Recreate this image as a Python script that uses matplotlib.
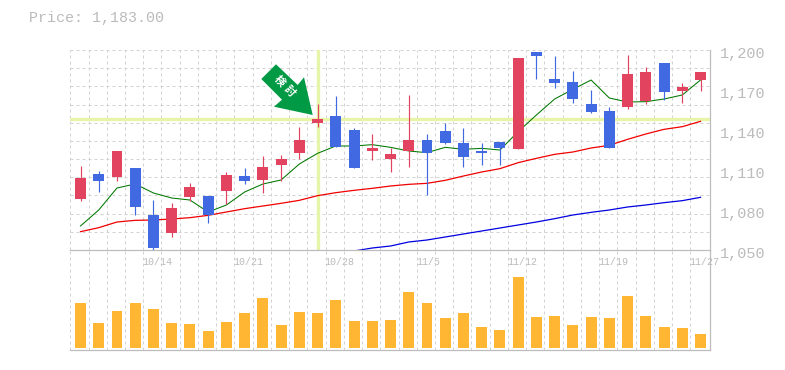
import numpy as np
import matplotlib
matplotlib.use("Agg")
import matplotlib.pyplot as plt
from matplotlib.patches import Polygon
from matplotlib.transforms import ScaledTranslation

W, H = 785, 370

# candles
body_top = [1104, 1107, 1124.25, 1111.5, 1076.25, 1081.5, 1097.25, 1090.5, 1106.25, 1105.5, 1112.25, 1118.25,
            1132.5, 1148.25, 1150.5, 1140, 1126.5, 1122, 1132.5, 1132.5, 1139.25, 1130.25, 1124.25, 1131,
            1194, 1198.5, 1178.25, 1176, 1159.5, 1154.25, 1182, 1183.5, 1190.25, 1172.25, 1183.5]
body_bot = [1088.25, 1101.75, 1104.75, 1082.25, 1051.5, 1062.75, 1089.75, 1076.25, 1094.25, 1101.75, 1102.5, 1113.75,
            1122.75, 1145.25, 1127.25, 1111.5, 1124.25, 1118.25, 1124.25, 1122.75, 1130.25, 1119.75, 1122.75, 1126.5,
            1125.75, 1195.5, 1175.25, 1163.25, 1153.5, 1126.5, 1157.25, 1161.75, 1168.5, 1169.25, 1177.5]
high = [1113, 1109.25, 1124.25, 1111.5, 1087.5, 1085.25, 1100.25, 1090.5, 1108.5, 1111.5, 1120.5, 1121.25,
        1142.25, 1159.5, 1165.5, 1141.5, 1137, 1126.5, 1166.25, 1137, 1145.25, 1141.5, 1130.25, 1131,
        1194, 1198.5, 1195.5, 1184.25, 1170, 1157.25, 1196.25, 1187.25, 1190.25, 1175.25, 1183.5]
low = [1086.75, 1093.5, 1101.75, 1076.25, 1049.25, 1059.75, 1086.75, 1070.25, 1084.5, 1099.5, 1092.75, 1101.75,
       1118.25, 1142.25, 1127.25, 1111.5, 1117.5, 1108.5, 1112.25, 1091.25, 1129.5, 1112.25, 1113.75, 1113.75,
       1125.75, 1178.25, 1171.5, 1160.25, 1152.75, 1126.5, 1155.75, 1159.5, 1162.5, 1160.25, 1169.25]
rising = [1, 0, 1, 0, 0, 1, 1, 0, 1, 0, 1, 1, 1, 1, 0, 0, 1, 1, 1, 0, 0, 0, 0, 0, 1, 0, 0, 0, 0, 0, 1, 1, 0, 1, 1]

ma_short = [1068, 1080, 1096.5, 1099.5, 1092.75, 1089, 1087.5, 1078.5, 1083.75, 1093.5, 1099.5, 1102.5,
            1114.5, 1122.5, 1128, 1128, 1129, 1127, 1124.25, 1123, 1127, 1125.5, 1126.25, 1125,
            1138.75, 1151.25, 1163.25, 1170.5, 1177.5, 1164, 1161, 1161.25, 1163.25, 1166.25, 1177.5]
ma_mid = [1063.75, 1066.75, 1071, 1072.25, 1072.5, 1073.25, 1074.25, 1076, 1078.5, 1081, 1083, 1085,
          1087.25, 1090.75, 1093, 1094.75, 1096.25, 1098, 1099.25, 1100, 1102.25, 1105.5, 1108.5, 1111,
          1115.5, 1118.75, 1121.75, 1123.5, 1126.5, 1128.5, 1133, 1137, 1140.5, 1142.5, 1146.5]
ma_long = [None] * 15 + [1049.25, 1051.5, 1053, 1056, 1057.5, 1059.75, 1062, 1064.25, 1066.5, 1068.75, 1071,
                         1073.5, 1076.25, 1078.25, 1080, 1082.25, 1083.75, 1085.5, 1087, 1089.5]

volume = [45, 25, 37, 45, 39, 25, 24, 17, 26, 35, 50, 23, 36, 35, 48, 27, 27, 28,
          56, 45, 30, 35, 21, 18, 71, 31, 32, 23, 31, 30, 52, 32, 21, 20, 14]

date_pos = [4, 9, 14, 19, 24, 29, 34]
date_labels = ["10/14", "10/21", "10/28", "11/5", "11/12", "11/19", "11/27"]
price_ticks = [1050, 1080, 1110, 1140, 1170, 1200]
price_labels = ["1,050", "1,080", "1,110", "1,140", "1,170", "1,200"]
marked_price = 1148
marked_day = 13

RED = "#e2435f"
BLUE = "#4169e1"
GRAY = "#bdbdbd"
TXT = "#bbbbbb"
GRID = "#d2d2d2"
HAIR = "#e6f5a8"
MONO = "Liberation Mono"


def px_rect(x0, y0, x1, y1):
    return [x0 / W, 1 - y1 / H, (x1 - x0) / W, (y1 - y0) / H]


fig = plt.figure(figsize=(W / 100, H / 100), dpi=100, facecolor="white")
ax = fig.add_axes(px_rect(70, 50, 710, 250))
ax2 = fig.add_axes(px_rect(70, 250, 710, 350))
ax2.patch.set_alpha(0)

x = np.arange(len(body_top))
xlim = (-0.576, 34.52)
grid_x = x - 0.56
date_ticks = [grid_x[i] - 0.05 for i in date_pos]

for a in (ax, ax2):
    a.set_xlim(xlim)
    a.set_xticks(grid_x)
    a.set_xticklabels([])
    a.tick_params(length=0)
    a.grid(axis="x", color=GRID, lw=0.72, ls=(0, (3, 3)))
    a.set_axisbelow(True)
    for s in a.spines.values():
        s.set_visible(False)
    a.spines["right"].set_visible(True)
    a.spines["bottom"].set_visible(True)
    a.spines["right"].set_color(GRAY)
    a.spines["bottom"].set_color(GRAY)
    a.spines["right"].set_linewidth(0.9)
    a.spines["bottom"].set_linewidth(0.9)

# upper panel
ax.set_ylim(1050, 1200)
ax.set_yticks(np.linspace(1050, 1200, 12))
ax.set_yticklabels([])
ax.grid(axis="y", color=GRID, lw=0.72, ls=(0, (3, 3)))

ax.axhline(marked_price, color=HAIR, lw=2.4, zorder=1.5)
ax.plot([marked_day, marked_day], [1051, 1199], color=HAIR, lw=2.4, zorder=1.5)

ax.plot(x, ma_short, color="#007700", lw=0.75, zorder=2)
ax.plot(x, ma_mid, color="#f00000", lw=0.9, zorder=2)
ax.plot(x, [np.nan if v is None else v for v in ma_long], color="#0000e0", lw=0.9, zorder=2)

colors = [RED if r else BLUE for r in rising]
ax.vlines(x, low, high, colors=colors, lw=0.85, zorder=3)
ax.bar(x, np.array(body_top) - np.array(body_bot), bottom=body_bot, width=0.6, color=colors, zorder=4)

# price labels sit a little below their level in the original
ax.yaxis.tick_right()
sec = ax.secondary_yaxis("right")
sec.set_yticks(price_ticks)
sec.set_yticklabels(price_labels, family=MONO, fontsize=11, color=TXT)
sec.tick_params(length=0, pad=7)
sec.spines["right"].set_visible(False)
down = ScaledTranslation(0, -1.5 / 72, fig.dpi_scale_trans)
for lab in sec.get_yticklabels():
    lab.set_transform(lab.get_transform() + down)

# lower panel
ax2.set_ylim(-2, 98)
ax2.set_yticks([])
ax2.bar(x, volume, width=0.6, color="#ffb733", zorder=3)
ax2.spines["right"].set_zorder(5)

sec2 = ax.secondary_xaxis("bottom")
sec2.set_xticks(date_ticks)
sec2.set_xticklabels(date_labels, family=MONO, fontsize=7.2, color=TXT, ha="left")
sec2.tick_params(length=0, pad=5)
sec2.spines["bottom"].set_visible(False)

fig.text(29 / W, 1 - 18 / H, "Price: 1,183.00", family=MONO, fontsize=10.8, color=TXT, va="center")

# arrow pointing at the marked candle
arrow_px = [(276, 64.3), (261.3, 79), (282, 99.7), (274, 106.7), (312.7, 115), (304, 77.3), (297.7, 85)]
fig.add_artist(Polygon([(a / W, 1 - b / H) for a, b in arrow_px], closed=True, transform=fig.transFigure,
                       facecolor="#009944", edgecolor="none"))
for ch, cx, cy in [("検", 279.3, 81), ("討", 289.3, 91.7)]:
    fig.text(cx / W, 1 - cy / H, ch, family=["Noto Sans CJK JP", "DejaVu Sans"], fontsize=7.8, fontweight="bold",
             color="white", rotation=-47, ha="center", va="center", rotation_mode="anchor")

fig.savefig("out.png", dpi=100)
